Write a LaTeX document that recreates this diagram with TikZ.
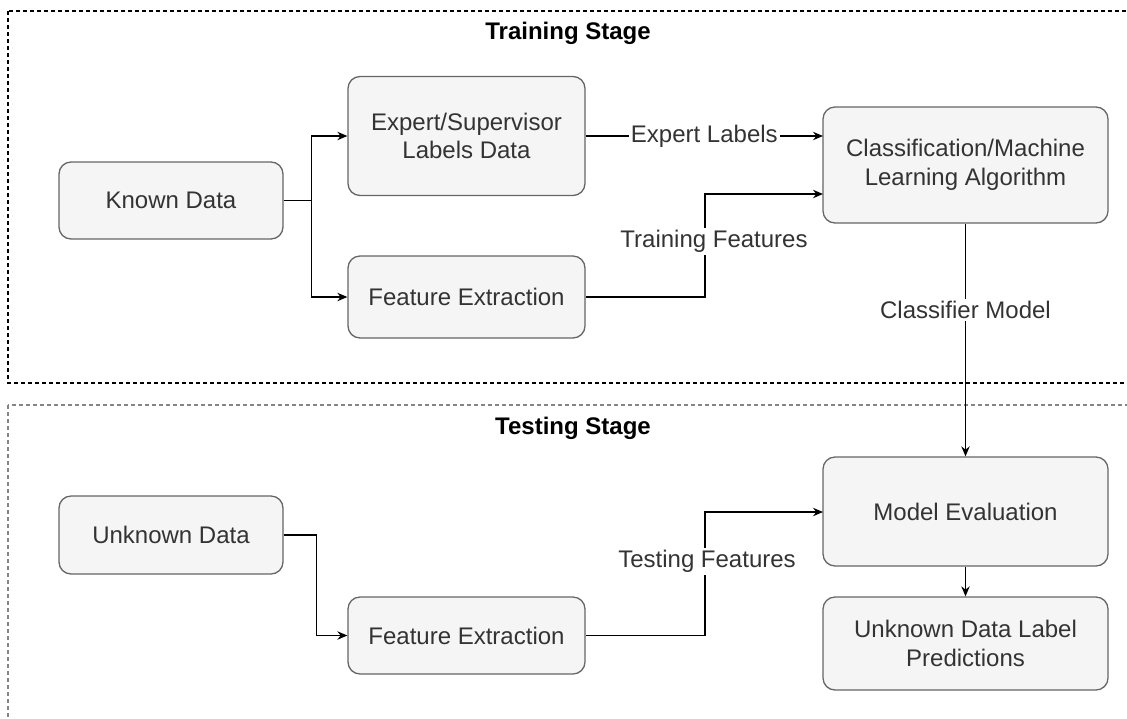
\documentclass[tikz,border=0pt]{standalone}
\usepackage{fontspec}
\setmainfont{Liberation Sans}
\usetikzlibrary{arrows.meta, positioning}
\definecolor{boxfill}{HTML}{F5F5F5}
\definecolor{boxline}{HTML}{666666}
\definecolor{boxtext}{HTML}{333333}

\begin{document}
\begin{tikzpicture} [x = 0.5pt, y = -0.5pt,
  stagebox/.style = {dash pattern = on 2pt off 1.5pt, line width = 0.55pt},
  block/.style = {draw = boxline, fill = boxfill, text = boxtext, rounded corners = 6pt,
    line width = 0.65pt, align = center, inner sep = 0pt, font = \fontsize{12}{14.4}\selectfont},
  lbl/.style = {fill = white, text = boxtext, inner sep = 1pt, font = \fontsize{12}{14.4}\selectfont},
  ttl/.style = {font = \fontsize{12}{14.4}\selectfont\bfseries},
  arr/.style = {-{Stealth[length = 5pt, width = 4.2pt]}, line width = 0.6pt}]
\useasboundingbox (0,0) rectangle (1127,718);
\clip (0,0) rectangle (1127,718);
% stage frames
\draw[stagebox] (8,11) rectangle (1140,383);
\draw[stagebox, boxline!80] (8,405) rectangle (1140,740);
\node[ttl] (trainttl) at (568,33) {Training Stage};
\node[ttl] (testttl) at (573,428) {Testing Stage};
% training stage
\node[block, minimum width = 112pt, minimum height = 38.5pt] (known) at (171,200.5) {Known Data};
\node[block, minimum width = 118.5pt, minimum height = 59.5pt] (expert) at (466.5,136) {Expert/Supervisor\\Labels Data};
\node[block, minimum width = 118.5pt, minimum height = 41pt] (featA) at (466.5,297) {Feature Extraction};
\node[block, minimum width = 142.5pt, minimum height = 58pt] (classif) at (965.5,165) {Classification/Machine\\Learning Algorithm};
% testing stage
\node[block, minimum width = 112pt, minimum height = 39pt] (unknown) at (171,535) {Unknown Data};
\node[block, minimum width = 118.5pt, minimum height = 38.5pt] (featB) at (466.5,635.5) {Feature Extraction};
\node[block, minimum width = 142.5pt, minimum height = 54.5pt] (evalm) at (965.5,511.5) {Model Evaluation};
\node[block, minimum width = 142.5pt, minimum height = 46.5pt] (predict) at (965.5,643.5) {Unknown Data Label\\Predictions};
\coordinate (cinA) at (823,136);
\coordinate (cinB) at (823,194);
\coordinate (tfbend) at (705,194);
\coordinate (einB) at (823,512);
\coordinate (tsbend) at (705,512);
% connectors
\draw[arr] (known.east) -- ++(28,0) |- (expert.west);
\draw[arr] (known.east) -- ++(28,0) |- (featA.west);
\draw[arr] (expert.east) -- node[lbl] {Expert Labels} (cinA);
\draw[arr] (featA.east) -| node[lbl, pos = 0.77, xshift = 4.5pt] {Training Features} (tfbend) -- (cinB);
\draw[arr] (classif.south) -- node[lbl, pos = 0.37] {Classifier Model} (evalm.north);
\draw[arr] (unknown.east) -- ++(33,0) |- (featB.west);
\draw[arr] (featB.east) -| node[lbl, pos = 0.8, xshift = 1pt] {Testing Features} (tsbend) -- (einB);
\draw[arr] (evalm.south) -- (predict.north);
\end{tikzpicture}
\end{document}
